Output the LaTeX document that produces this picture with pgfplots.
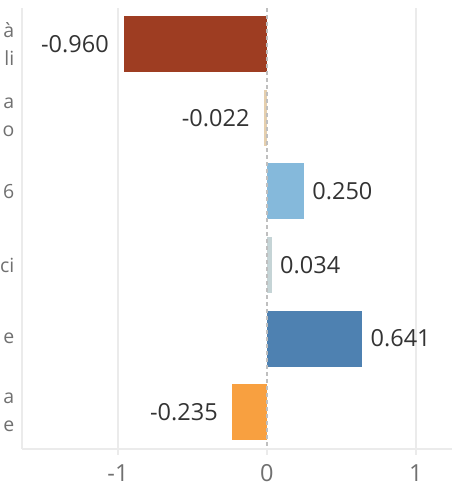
\documentclass[border=0pt]{standalone}
\usepackage{fontspec}
\setmainfont{Open Sans}
\usepackage{pgfplots}
\pgfplotsset{compat=1.18}
\definecolor{cA}{HTML}{9E3D22}
\definecolor{cB}{HTML}{E5CFAE}
\definecolor{cC}{HTML}{85B9DB}
\definecolor{cD}{HTML}{C5D4D6}
\definecolor{cE}{HTML}{4E81B1}
\definecolor{cF}{HTML}{F8A040}
\definecolor{gridc}{HTML}{EBEBEB}
\definecolor{labc}{HTML}{707070}
\definecolor{valc}{HTML}{333333}
\begin{document}
\begin{tikzpicture}[x=1pt,y=1pt]
\clip (0,0) rectangle (452,489);
\begin{axis}[
  at={(22pt,40pt)}, anchor=south west,
  scale only axis, width=430pt, height=441pt,
  xmin=-1.644, xmax=1.242,
  ymin=-0.49, ymax=5.5, y dir=reverse,
  xbar, bar shift=0pt, bar width=0.76,
  axis x line=bottom, axis y line=left,
  axis line style={-, draw=gridc, line width=1.2pt},
  axis on top,
  xtick={-1,1}, extra x ticks={0},
  extra x tick style={grid style={dashed, dash pattern=on 4pt off 3pt, draw=black!25, line width=1.3pt}},
  xmajorgrids, grid style={draw=gridc, line width=1.3pt},
  tick align=outside, major tick length=6pt,
  xtick style={draw=gridc, line width=1.3pt},
  ytick={0,1,2,3,4,5},
  ytick style={draw=none},
  yticklabels={{à\\li},{a\\o},{6},{ci},{e},{a\\e}},
  yticklabel style={align=right, font=\fontsize{19.5}{28}\selectfont, text=labc, inner sep=0pt, xshift=-1.5pt},
  xticklabel style={font=\fontsize{23.5}{28}\selectfont, text=labc, yshift=-6pt},
  /pgf/number format/assume math mode=true,
  nodes near coords,
  nodes near coords align={horizontal},
  every node near coord/.append style={font=\fontsize{23.5}{28}\selectfont, text=valc, inner xsep=8pt, /pgf/number format/fixed, /pgf/number format/zerofill, /pgf/number format/precision=3},
]
\addplot[fill=cA, draw=none, every node near coord/.append style={inner xsep=15pt}] coordinates {(-0.960,0)};
\addplot[fill=cB, draw=none, every node near coord/.append style={inner xsep=14pt}] coordinates {(-0.022,1)};
\addplot[fill=cC, draw=none] coordinates {(0.250,2)};
\addplot[fill=cD, draw=none] coordinates {(0.034,3)};
\addplot[fill=cE, draw=none] coordinates {(0.641,4)};
\addplot[fill=cF, draw=none, every node near coord/.append style={inner xsep=14pt}] coordinates {(-0.235,5)};
\end{axis}
\end{tikzpicture}
\end{document}
